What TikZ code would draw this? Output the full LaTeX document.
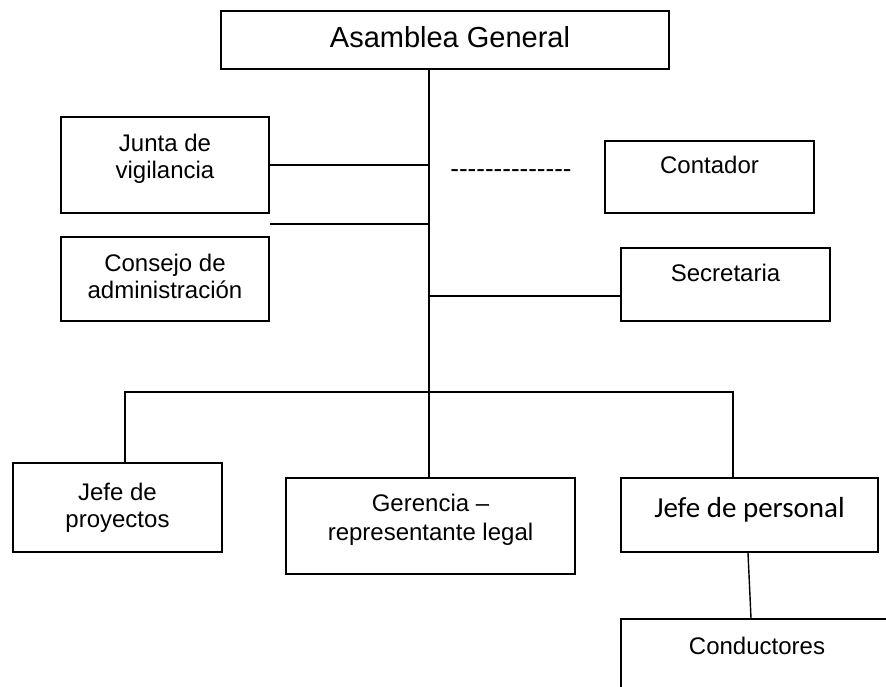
\documentclass[tikz,border=0pt]{standalone}
\usepackage{fontspec}
\setmainfont{Liberation Sans}
\newfontfamily\calibri{Carlito}
\usetikzlibrary{positioning}
\newcommand{\hy}{-\kern0pt}

\begin{document}
\begin{tikzpicture}[x=1pt,y=-1pt,
  box/.style={draw,line width=1.8pt,inner sep=0pt},
  txt/.style={inner sep=0pt,align=center,font=\fontsize{24}{27}\selectfont}]
\tikzstyle{link}=[line width=1.4pt]
\useasboundingbox (0,0) rectangle (886,687);
\clip (0,0) rectangle (886,687);
% cajas
\node[box,minimum width=448pt,minimum height=58pt] (asm) at (445,40) {};
\node[box,minimum width=208pt,minimum height=96pt] (jun) at (165,165) {};
\node[box,minimum width=209pt,minimum height=72pt] (con) at (709.5,177) {};
\node[box,minimum width=208pt,minimum height=84pt] (cons) at (165,279) {};
\node[box,minimum width=209pt,minimum height=73pt] (sec) at (725.5,284.5) {};
\node[box,minimum width=209pt,minimum height=89pt] (jpr) at (117.5,507.5) {};
\node[box,minimum width=289pt,minimum height=96pt] (ger) at (430.5,526) {};
\node[box,minimum width=257pt,minimum height=74pt] (jpe) at (749.5,515) {};
\node[box,minimum width=272pt,minimum height=90pt] (cond) at (757,664) {};
% textos
\node[txt,font=\fontsize{29}{33}\selectfont,below=16pt of asm.north,xshift=5pt] {Asamblea General};
\node[txt,below=18pt of jun.north] {Junta de\\vigilancia};
\node[txt,below=16pt of con.north] {Contador};
\node[txt,below=18pt of cons.north] {Consejo de\\administración};
\node[txt,below=17pt of sec.north] {Secretaria};
\node[txt,below=21pt of jpr.north] {Jefe de\\proyectos};
\node[txt,font=\fontsize{24}{29}\selectfont,below=17pt of ger.north] {Gerencia --\\representante legal};
\node[txt,font=\calibri\fontsize{29}{33}\selectfont,below=20pt of jpe.north] {Jefe de personal};
\node[txt,below=19pt of cond.north] {Conductores};
\node[txt,font=\fontsize{26}{30}\selectfont,anchor=base] (dsh) at (511,178)
  {\hy\hy\hy\hy\hy\hy\hy\hy\hy\hy\hy\hy\hy\hy};
% lineas
\coordinate (bar) at (429,392);
\coordinate (barL) at (125,392);
\coordinate (barR) at (733,392);
\coordinate (cut) at (270,224);
\coordinate (secj) at (429,296);
\draw[link] (asm.south -| bar) -- (bar);
\draw[link] (jun.east) -- (jun.east -| bar);
\draw[link] (cut) -- (cut -| bar);
\draw[link] (secj) -- (secj -| sec.west);
\draw[link] (jpr.north -| barL) -- (barL) -- (barR) -- (jpe.north -| barR);
\draw[link] (bar) -- (ger.north -| bar);
\draw[link] ([xshift=-1.5pt]jpe.south) -- ([xshift=-6pt]cond.north);
\end{tikzpicture}
\end{document}
